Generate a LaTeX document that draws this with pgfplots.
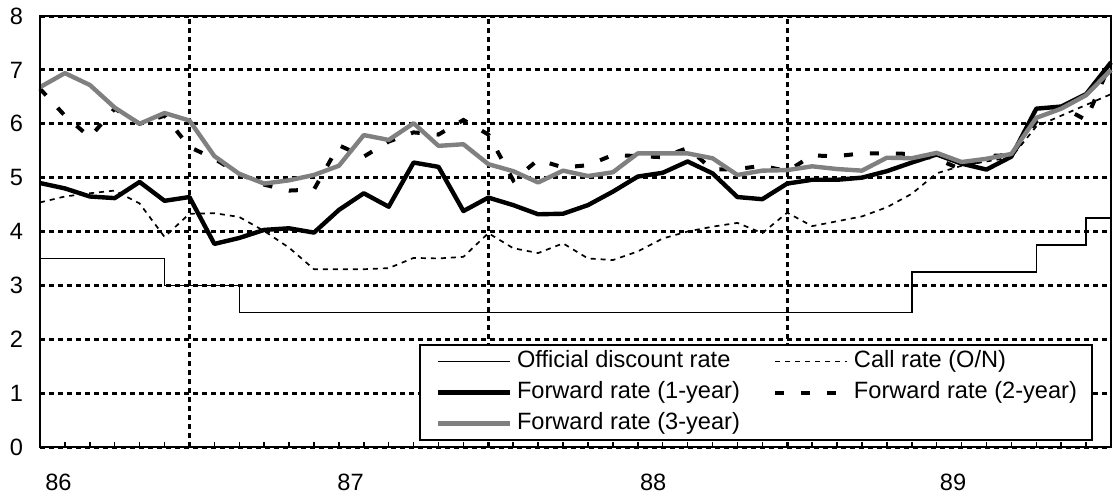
\documentclass[border=0pt]{standalone}
\usepackage{fontspec}
\setmainfont{Liberation Sans}
\usepackage{pgfplots}
\pgfplotsset{compat=1.18}
\definecolor{fwdgrey}{RGB}{128,128,128}
\begin{document}
\begin{tikzpicture}
\useasboundingbox (-20pt,-24pt) rectangle (536.5pt,223.5pt);
\begin{axis}[
  at={(0pt,0pt)}, anchor=south west,
  scale only axis, width=535.5pt, height=215.5pt,
  xmin=0, xmax=43, ymin=0, ymax=8,
  clip=false,
  font=\fontsize{11.8}{13}\selectfont,
  /pgf/number format/assume math mode=true,
  ytick={0,1,...,8},
  xtick={0,1,...,43}, xticklabels={},
  extra x ticks={6,18,30}, extra x tick labels={},
  extra x tick style={grid=major, major grid style={black, line width=1.5pt, dash pattern=on 2.5pt off 2pt}},
  ymajorgrids,
  major grid style={black, line width=1.5pt, dash pattern=on 2.5pt off 2pt},
  tick align=inside, tick pos=left,
  major tick length=2.5pt,
  ytick style={draw=none},
  xtick style={black, line width=0.75pt},
  yticklabel style={inner sep=0pt, xshift=-8.25pt},
  axis line style={line width=0.6pt},
  legend columns=2,
  legend cell align=left,
  legend image code/.code={\draw[#1] (0pt,0pt) -- (36pt,0pt);},
  legend style={at={(0.354,0.239)}, anchor=north west, draw=black, line width=1pt,
     inner xsep=7.75pt, inner ysep=2pt, row sep=3pt,
     nodes={inner sep=0pt, text height=9pt, text depth=3.5pt},
     /tikz/every odd column/.append style={column sep=2.5pt},
     /tikz/every even column/.append style={column sep=16.5pt}},
]
% Official discount rate
\addplot[black, line width=0.75pt, const plot] coordinates {
(0,3.5) (5,3.0) (8,2.5) (35,3.25) (40,3.75) (42,4.25) (43,4.25)};
\addlegendentry{Official discount rate}
% Call rate (O/N)
\addplot[black, line width=0.85pt, dash pattern=on 2.5pt off 2.5pt, line join=round] coordinates {
(0,4.54) (1,4.65) (2,4.71) (3,4.76) (4,4.52) (5,3.90) (6,4.33) (7,4.34) (8,4.27) (9,4.01)
(10,3.70) (11,3.30) (12,3.30) (13,3.30) (14,3.32) (15,3.51) (16,3.50) (17,3.53) (18,3.97) (19,3.69)
(20,3.60) (21,3.78) (22,3.50) (23,3.47) (24,3.63) (25,3.87) (26,4.00) (27,4.09) (28,4.16) (29,3.97)
(30,4.35) (31,4.10) (32,4.19) (33,4.28) (34,4.45) (35,4.70) (36,5.08) (37,5.22) (38,5.30) (39,5.38)
(40,5.95) (41,6.15) (42,6.35) (43,6.55)};
\addlegendentry{Call rate (O/N)}
% Forward rate (1-year)
\addplot[black, line width=2.2pt, line join=round] coordinates {
(0,4.90) (1,4.80) (2,4.65) (3,4.62) (4,4.92) (5,4.57) (6,4.64) (7,3.77) (8,3.88) (9,4.03)
(10,4.06) (11,3.98) (12,4.40) (13,4.71) (14,4.46) (15,5.28) (16,5.20) (17,4.38) (18,4.63) (19,4.49)
(20,4.32) (21,4.33) (22,4.49) (23,4.74) (24,5.02) (25,5.09) (26,5.30) (27,5.08) (28,4.64) (29,4.60)
(30,4.89) (31,4.96) (32,4.96) (33,5.00) (34,5.12) (35,5.28) (36,5.43) (37,5.26) (38,5.15) (39,5.39)
(40,6.28) (41,6.32) (42,6.55) (43,7.14)};
\addlegendentry{Forward rate (1-year)}
% Forward rate (2-year)
\addplot[black, line width=2pt, dash pattern=on 4.5pt off 8.5pt] coordinates {
(0,6.65) (1,6.15) (2,5.75) (3,6.28) (4,6.00) (5,6.15) (6,5.57) (7,5.35) (8,5.07) (9,4.87)
(10,4.76) (11,4.78) (12,5.60) (13,5.39) (14,5.67) (15,5.84) (16,5.80) (17,6.07) (18,5.80) (19,4.95)
(20,5.33) (21,5.19) (22,5.23) (23,5.42) (24,5.40) (25,5.38) (26,5.55) (27,5.15) (28,5.16) (29,5.22)
(30,5.12) (31,5.41) (32,5.40) (33,5.45) (34,5.45) (35,5.44) (36,5.35) (37,5.15) (38,5.40) (39,5.42)
(40,6.04) (41,6.32) (42,6.07) (43,7.15)};
\addlegendentry{Forward rate (2-year)}
% Forward rate (3-year)
\addplot[fwdgrey, line width=2.2pt, line join=round] coordinates {
(0,6.68) (1,6.94) (2,6.72) (3,6.30) (4,6.00) (5,6.20) (6,6.06) (7,5.40) (8,5.07) (9,4.89)
(10,4.95) (11,5.05) (12,5.22) (13,5.79) (14,5.70) (15,6.01) (16,5.59) (17,5.62) (18,5.25) (19,5.12)
(20,4.91) (21,5.13) (22,5.03) (23,5.10) (24,5.45) (25,5.45) (26,5.45) (27,5.36) (28,5.05) (29,5.13)
(30,5.14) (31,5.21) (32,5.16) (33,5.13) (34,5.37) (35,5.36) (36,5.46) (37,5.29) (38,5.35) (39,5.44)
(40,6.11) (41,6.28) (42,6.53) (43,7.00)};
\addlegendentry{Forward rate (3-year)}
\draw[black, line width=1pt] (rel axis cs:0,1) -- (rel axis cs:0,0) -- (rel axis cs:1,0);
\end{axis}
\begin{scope}[font=\fontsize{11.8}{13}\selectfont]
\node at (9.2pt,-17.5pt) {86};
\node at (155.3pt,-17.5pt) {87};
\node at (306.6pt,-17.5pt) {88};
\node at (456.5pt,-17.5pt) {89};
\end{scope}
\end{tikzpicture}
\end{document}
